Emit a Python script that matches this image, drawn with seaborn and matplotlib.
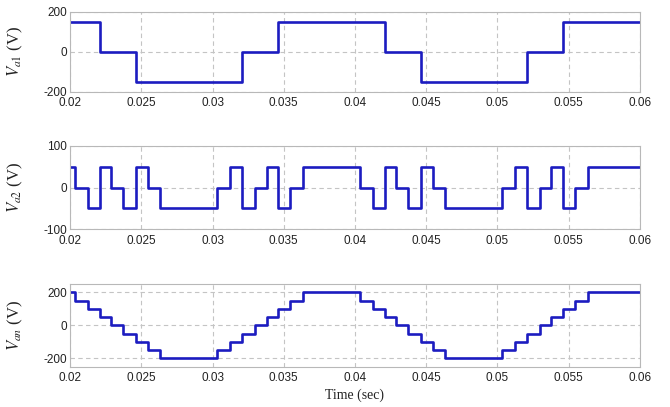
import matplotlib
matplotlib.use("Agg")
import matplotlib.pyplot as plt
import seaborn as sns
import pandas as pd

# Time window and ticks
t_start, t_end = 0.02, 0.06
x_ticks = [0.02, 0.025, 0.03, 0.035, 0.04, 0.045, 0.05, 0.055, 0.06]
x_tick_labels = ["0.02", "0.025", "0.03", "0.035", "0.04", "0.045", "0.05", "0.055", "0.06"]

# Cell 1 (high-voltage H-bridge) output: switching instants and level after each instant
va1_init = 150
va1_t = [0.0221, 0.0246, 0.0321, 0.0346, 0.0421, 0.0446, 0.0521, 0.0546]
va1_v = [0, -150, 0, 150, 0, -150, 0, 150]

# Cell 2 (low-voltage H-bridge) output
va2_init = 50
va2_t = [0.02038, 0.02126, 0.02210, 0.02291, 0.02375, 0.02460, 0.02544, 0.02635,
         0.03035, 0.03126, 0.03210, 0.03295, 0.03379, 0.03460, 0.03544, 0.03632,
         0.04038, 0.04126, 0.04210, 0.04291, 0.04375, 0.04460, 0.04544, 0.04635,
         0.05035, 0.05126, 0.05210, 0.05295, 0.05379, 0.05460, 0.05544, 0.05632]
va2_v = [0, -50, 50, 0, -50, 50, 0, -50,
         0, 50, -50, 0, 50, -50, 0, 50,
         0, -50, 50, 0, -50, 50, 0, -50,
         0, 50, -50, 0, 50, -50, 0, 50]

# Phase voltage (nine-level staircase)
van_init = 200
van_t = [0.02038, 0.02126, 0.02210, 0.02291, 0.02375, 0.02460, 0.02544, 0.02635,
         0.03035, 0.03126, 0.03210, 0.03295, 0.03379, 0.03460, 0.03544, 0.03632,
         0.04038, 0.04126, 0.04210, 0.04291, 0.04375, 0.04460, 0.04544, 0.04635,
         0.05035, 0.05126, 0.05210, 0.05295, 0.05379, 0.05460, 0.05544, 0.05632]
van_v = [150, 100, 50, 0, -50, -100, -150, -200,
         -150, -100, -50, 0, 50, 100, 150, 200,
         150, 100, 50, 0, -50, -100, -150, -200,
         -150, -100, -50, 0, 50, 100, 150, 200]

panels = [
    dict(init=va1_init, t=va1_t, v=va1_v, ylim=(-200, 200), yticks=[-200, 0, 200],
         label=r"$V_{a1}$ (V)", rect=[0.1045, 0.7747, 0.8507, 0.197]),
    dict(init=va2_init, t=va2_t, v=va2_v, ylim=(-100, 100), yticks=[-100, 0, 100],
         label=r"$V_{a2}$ (V)", rect=[0.1045, 0.4366, 0.8507, 0.2054]),
    dict(init=van_init, t=van_t, v=van_v, ylim=(-250, 250), yticks=[-200, 0, 200],
         label=r"$V_{an}$ (V)", rect=[0.1045, 0.099, 0.8507, 0.2032]),
]

sns.set_theme(style="whitegrid")
plt.rcParams["mathtext.fontset"] = "stix"
plt.rcParams["font.family"] = ["Liberation Sans", "DejaVu Sans"]

fig = plt.figure(figsize=(6.7, 4.07), dpi=100)
fig.patch.set_facecolor("white")

line_color = "#1c1cc0"
text_color = "#222222"

for i, p in enumerate(panels):
    ax = fig.add_axes(p["rect"])
    ax.set_facecolor("white")
    times = [t_start] + p["t"] + [t_end]
    levels = [p["init"]] + p["v"] + [p["v"][-1]]
    df = pd.DataFrame({"t": times, "v": levels})
    sns.lineplot(data=df, x="t", y="v", ax=ax, color=line_color, linewidth=1.9,
                 drawstyle="steps-post", estimator=None, sort=False)
    ax.set_xlim(t_start, t_end)
    ax.set_ylim(*p["ylim"])
    ax.set_xticks(x_ticks)
    ax.set_xticklabels(x_tick_labels)
    ax.set_yticks(p["yticks"])
    ax.set_yticklabels([str(y) for y in p["yticks"]])
    ax.tick_params(axis="x", labelsize=8.5, colors=text_color, pad=4, length=0)
    ax.tick_params(axis="y", labelsize=8.5, colors=text_color, pad=2, length=0)
    ax.grid(True, color="#c4c4c4", linestyle=(0, (4, 3)), linewidth=0.8)
    for s in ax.spines.values():
        s.set_color("#b8b8b8")
        s.set_linewidth(0.8)
    ax.set_ylabel(p["label"], fontsize=12, family=["Liberation Serif", "DejaVu Serif"],
                  color=text_color)
    ax.yaxis.set_label_coords(-0.079, 0.5)
    if i == 2:
        ax.set_xlabel("Time (sec)", fontsize=10, family=["Liberation Serif", "DejaVu Serif"],
                      color=text_color, labelpad=3)
    else:
        ax.set_xlabel("")

fig.savefig("out.png", dpi=100, facecolor="white")
